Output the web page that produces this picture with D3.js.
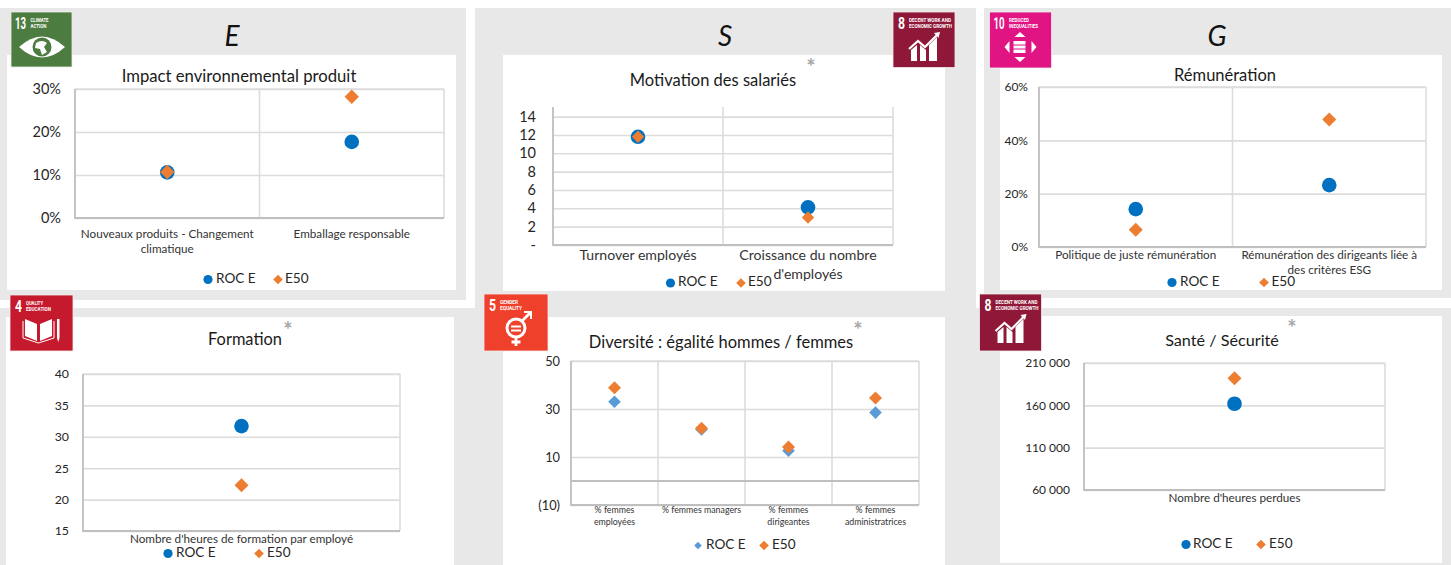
<!DOCTYPE html>
<html><head><meta charset="utf-8">
<script src="https://cdnjs.cloudflare.com/ajax/libs/d3/7.8.5/d3.min.js"></script>
<style>
html,body{margin:0;padding:0;background:#fff;overflow:hidden}
svg{display:block;fill:#262626}
text{font-family:Lato,"Open Sans",sans-serif}
</style></head><body><svg id="c" width="1451" height="565"></svg>
<script>
// ---- data ----
const seriesNames = ["ROC E", "E50"];

const envCategories = [["Nouveaux produits - Changement","climatique"],["Emballage responsable"]];
const envRoc = [0.106, 0.177];
const envE50 = [0.107, 0.282];
const envTicks = [0, 0.1, 0.2, 0.3];

const socCategories = [["Turnover employés"],["Croissance du nombre","d'employés"]];
const socRoc = [11.8, 4.1];
const socE50 = [11.8, 3.0];
const socTicks = [0, 2, 4, 6, 8, 10, 12, 14];

const govCategories = [["Politique de juste rémunération"],["Rémunération des dirigeants liée à","des critères ESG"]];
const govRoc = [0.142, 0.232];
const govE50 = [0.065, 0.478];
const govTicks = [0, 0.2, 0.4, 0.6];

const trainCategories = [["Nombre d'heures de formation par employé"]];
const trainRoc = [31.7];
const trainE50 = [22.3];
const trainTicks = [15, 20, 25, 30, 35, 40];

const divCategories = [["% femmes","employées"],["% femmes managers"],["% femmes","dirigeantes"],["% femmes","administratrices"]];
const divRoc = [33, 21.5, 12.6, 28.5];
const divE50 = [38.9, 22, 14.2, 34.6];
const divTicks = [-10, 10, 30, 50];

const hsCategories = [["Nombre d'heures perdues"]];
const hsRoc = [161900];
const hsE50 = [192000];
const hsTicks = [60000, 110000, 160000, 210000];

const pct = d => Math.round(d*100) + "%";
const spaced = d => d3.format(",")(d).replace(/,/g, " ");
const dash = d => d === 0 ? "-" : String(d);
const paren = d => d < 0 ? "(" + Math.abs(d) + ")" : String(d);

// ---- layout ----
const charts = [
 {title:"Impact environnemental produit",cats:envCategories,roc:envRoc,e50:envE50,ticks:envTicks,fmt:pct,
  domain:[0,0.3],box:[75,444,89,218],white:[7,55,449,235],tfs:14.5,tpad:14,cfs:11.7,cy:235,clh:15,ty:82,tx:239,tfsz:16.7,dm:7.2,
  leg:[208,216,278,285,279.5]},
 {title:"Motivation des salariés",cats:socCategories,roc:socRoc,e50:socE50,ticks:socTicks,fmt:dash,
  domain:[0,15.05],box:[553,893,107,245],white:[503,55,442,236],tfs:14.5,tpad:17,cfs:14.1,cy:256,clh:19,ty:86,tx:713,tfsz:16.5,noTop:true,dm:6.2,
  leg:[670.5,678,741,748,283]},
 {title:"Rémunération",cats:govCategories,roc:govRoc,e50:govE50,ticks:govTicks,fmt:pct,
  domain:[0,0.6],box:[1039,1426,87,247],white:[1000,55,442,235],tfs:12,tpad:11,cfs:11.7,cy:256,clh:15,ty:81,tx:1225,tfsz:16.5,dm:7,
  leg:[1172,1180,1264,1271.5,282.5]},
 {title:"Formation",cats:trainCategories,roc:trainRoc,e50:trainE50,ticks:trainTicks,fmt:String,
  domain:[15,40],box:[83,400,374,531],white:[6,317,448,248],tfs:12.3,tpad:14,cfs:11.7,cy:540,clh:15,ty:345,tx:245,tfsz:16.4,dm:7,
  leg:[168,176,259,267,553.5]},
 {title:"Diversité : égalité hommes / femmes",cats:divCategories,roc:divRoc,e50:divE50,ticks:divTicks,fmt:paren,
  domain:[-10,50],box:[571,919,361,505],white:[503,317,442,248],tfs:12.8,tpad:11,cfs:8.8,cy:511,clh:12,ty:347.5,tx:721,tfsz:16.5,zero:true,rocDiamond:true,dm:6.5,
  leg:[698,706,764,772,545.5]},
 {title:"Santé / Sécurité",cats:hsCategories,roc:hsRoc,e50:hsE50,ticks:hsTicks,fmt:spaced,
  domain:[60000,210000],box:[1084,1385,363,490],white:[1000,316,442,247],tfs:12,tpad:14,cfs:11.7,cy:499,clh:15,ty:346,tx:1222,tfsz:16.2,dm:7,
  leg:[1186,1193,1261,1269,544.5]}
];
const ROC = "#0070C0", ROC_LIGHT = "#5B9BD5", E50 = "#ED7D31";
const LEGEND_FONT = 13.6;
const svg = d3.select("#c");

// gray backgrounds
[[0,8,466,292],[0,308,475,257],[475,8,501,557],[984,8,467,290],[976,308,475,257]].forEach(r=>
  svg.append("rect").attr("x",r[0]).attr("y",r[1]).attr("width",r[2]).attr("height",r[3]).attr("fill","#e8e8e8"));

charts.forEach(c=>{
  const [wx,wy,ww,wh]=c.white;
  svg.append("rect").attr("x",wx).attr("y",wy).attr("width",ww).attr("height",wh).attr("fill","#fff");
  const [x0,x1,y0,y1]=c.box;
  const x=d3.scaleBand().domain(c.cats.map((d,i)=>i)).range([x0,x1]);
  const y=d3.scaleLinear().domain(c.domain).range([y1,y0]);
  const g=svg.append("g");

  // horizontal gridlines + tick labels through the axis
  const ya=g.append("g").attr("transform",`translate(${x0},0)`)
    .call(d3.axisLeft(y).tickValues(c.ticks).tickFormat(c.fmt).tickSize(-(x1-x0)).tickPadding(c.tpad));
  ya.select(".domain").remove();
  ya.selectAll("line").attr("stroke","#dcdcdc").attr("stroke-width",1.6);
  ya.selectAll("text").attr("font-size",c.tfs).attr("fill","#262626");

  // frame: vertical separators
  const seps=d3.range(0,c.cats.length+1).map(i=>x0+i*x.step());
  g.selectAll(".sep").data(seps.slice(1)).join("line").attr("class","sep")
    .attr("x1",d=>d).attr("x2",d=>d).attr("y1",y0).attr("y2",y1)
    .attr("stroke","#dcdcdc").attr("stroke-width",1.6);
  if(!c.noTop) g.append("line").attr("x1",x0).attr("x2",x1).attr("y1",y0).attr("y2",y0).attr("stroke","#dcdcdc").attr("stroke-width",1.6);
  if(c.zero) g.append("line").attr("x1",x0).attr("x2",x1).attr("y1",y(0)).attr("y2",y(0)).attr("stroke","#bfbfbf").attr("stroke-width",1.8);
  const axisColor="#bfbfbf";
  g.append("line").attr("x1",x0).attr("x2",x0).attr("y1",y0).attr("y2",y1+1).attr("stroke",axisColor).attr("stroke-width",1.8);
  g.append("line").attr("x1",x0).attr("x2",x1).attr("y1",y1).attr("y2",y1).attr("stroke",axisColor).attr("stroke-width",1.8);

  // category labels
  c.cats.forEach((lines,i)=>{
    lines.forEach((t,k)=>{
      g.append("text").attr("x",x(i)+x.bandwidth()/2).attr("y",c.cy+k*c.clh)
       .attr("text-anchor","middle").attr("dominant-baseline","middle")
       .attr("font-size",c.cfs).attr("fill","#333").text(t);
    });
  });

  // marks
  const diamond=(s)=>`M0,${-s}L${s},0L0,${s}L${-s},0Z`;
  c.roc.forEach((v,i)=>{
    const cx=x(i)+x.bandwidth()/2;
    if(c.rocDiamond) g.append("path").attr("d",diamond(6.3)).attr("transform",`translate(${cx},${y(v)})`).attr("fill",ROC_LIGHT);
    else g.append("circle").attr("cx",cx).attr("cy",y(v)).attr("r",7.3).attr("fill",ROC);
  });
  c.e50.forEach((v,i)=>{
    const cx=x(i)+x.bandwidth()/2;
    g.append("path").attr("d",diamond(c.dm)).attr("transform",`translate(${cx},${y(v)})`).attr("fill",E50);
  });

  // title
  g.append("text").attr("x",c.tx).attr("y",c.ty).attr("text-anchor","middle").attr("font-size",c.tfsz).attr("fill","#1a1a1a").text(c.title);

  // legend
  const [lcx,ltx,ldx,ldt,ly]=c.leg;
  if(c.rocDiamond) g.append("path").attr("d",diamond(3.8)).attr("transform",`translate(${lcx},${ly})`).attr("fill",ROC_LIGHT);
  else g.append("circle").attr("cx",lcx).attr("cy",ly).attr("r",4.6).attr("fill",ROC);
  g.append("path").attr("d",diamond(4.8)).attr("transform",`translate(${ldx},${ly})`).attr("fill",E50);
  g.append("text").attr("x",ltx).attr("y",ly).attr("dominant-baseline","middle").attr("font-size",LEGEND_FONT).text(seriesNames[0]);
  g.append("text").attr("x",ldt).attr("y",ly).attr("dominant-baseline","middle").attr("font-size",LEGEND_FONT).text(seriesNames[1]);
});

// section letters
[["E",232],["S",725],["G",1217]].forEach(([t,x])=>
  svg.append("text").attr("x",x).attr("y",46).attr("text-anchor","middle").attr("font-size",28).attr("font-style","italic").attr("fill","#111").text(t));

// asterisks
[[811,75],[288,338],[858,338],[1292,336]].forEach(([x,y])=>
  svg.append("text").attr("x",x).attr("y",y).attr("text-anchor","middle").attr("font-size",22).attr("font-weight",700).attr("fill","#a6a6a6").text("*"));

// SDG icons
function icon(x,y,w,h,color,num,l1,l2,tl,draw){
  const g=svg.append("g").attr("transform",`translate(${x},${y})`);
  g.append("rect").attr("width",w).attr("height",h).attr("fill",color).attr("stroke","#f1ecec").attr("stroke-width",0.8);
  const two=num.length>1;
  g.append("text").attr("transform",`translate(${two?4:5},16.5) scale(${two?0.57:0.72},1)`).attr("font-size",17).attr("font-weight",700).attr("fill","#fff")
    .style("font-family","Roboto").text(num);
  const lx=two?19.5:16;
  [l1,l2].forEach((t,i)=>g.append("text").attr("x",lx).attr("y",9.5+i*6.6).attr("font-size",6.2).attr("font-weight",700).attr("fill","#fff")
    .attr("textLength",tl[i]).attr("lengthAdjust","spacingAndGlyphs").style("font-family","Roboto").text(t));
  draw(g.append("g").attr("fill","#fff").attr("stroke","none"));
}
const growth=g=>{
  g.append("path").attr("d","M18,49V38L24,33V49ZM27,49V33L33,38V49ZM36,49V33L44,25V49Z");
  g.append("path").attr("d","M16,37L25,29L32,35L44,23").attr("fill","none").attr("stroke","#fff").attr("stroke-width",2.2);
  g.append("path").attr("d","M41,21L47,20L45.5,26Z");
};
icon(11,12,61,55,"#4C7C3F","13","CLIMATE","ACTION",[18,16],g=>{
  g.append("path").attr("d","M8,35Q31,14 54,35Q31,56 8,35Z");
  g.append("circle").attr("cx",31).attr("cy",35).attr("r",9.5).attr("fill","#4C7C3F");
  g.append("path").attr("d","M25,31Q31,27 36,31L33,35L36,40L31,43L29,37L24,36Z");
});
icon(893,12,62,55.5,"#8F1838","8","DECENT WORK AND","ECONOMIC GROWTH",[42,43],growth);
icon(989.5,12,62,56,"#E11484","10","REDUCED","INEQUALITIES",[20,29],g=>{
  g.append("path").attr("d","M30.5,20L36,25H25ZM30.5,50L25,45H36ZM15,35L20,29V41ZM47,35L42,29V41Z");
  g.append("path").attr("d","M24,29H36V32.5H24ZM24,37.5H36V41H24Z");
  g.append("path").attr("d","M24,33.5H36V36.5H24Z");
});
icon(10,295,63,56,"#C5192D","4","QUALITY","EDUCATION",[17,25],g=>{
  g.append("path").attr("d","M15,24L27,29V46L15,41ZM30,29L42,24V41L30,46Z");
  g.append("path").attr("d","M13,26V43L28.5,48L44,43V26").attr("fill","none").attr("stroke","#fff").attr("stroke-width",1);
  g.append("path").attr("d","M47,24H49.5V43L48.2,47L47,43Z");
});
icon(484,294,64,57,"#EF402B","5","GENDER","EQUALITY",[18,22],g=>{
  g.append("circle").attr("cx",32).attr("cy",34).attr("r",9).attr("fill","none").attr("stroke","#fff").attr("stroke-width",3);
  g.append("path").attr("d","M27,31.5H37V33.5H27ZM27,35.5H37V37.5H27Z");
  g.append("path").attr("d","M32,43V52M27.5,48H36.5M38,27L46,19").attr("stroke","#fff").attr("stroke-width",2.8).attr("fill","none");
  g.append("path").attr("d","M40,17H48V25H46V19H40Z");
});
icon(979.5,294,62,57,"#8F1838","8","DECENT WORK AND","ECONOMIC GROWTH",[42,43],growth);
</script></body></html>
